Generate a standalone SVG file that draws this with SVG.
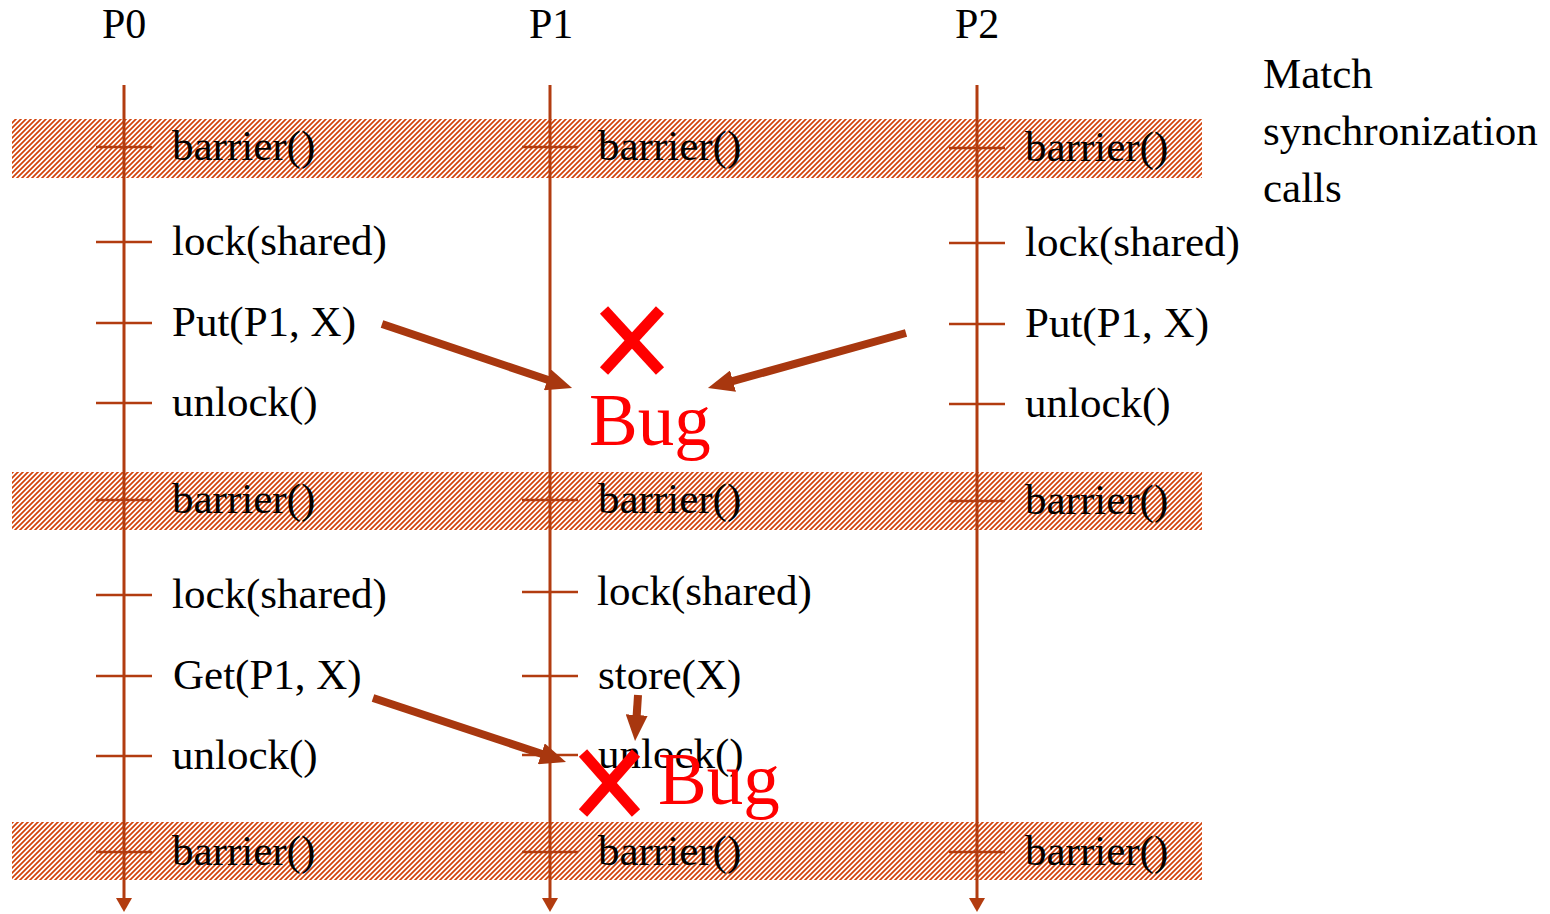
<svg xmlns="http://www.w3.org/2000/svg" width="1550" height="914" viewBox="0 0 1550 914">
<style>
.t{font-family:"Liberation Serif","Times New Roman",serif;font-size:43px;fill:#000}
.p{font-family:"Liberation Serif","Times New Roman",serif;font-size:42px;fill:#000}
.h{font-family:"Liberation Serif","Times New Roman",serif;font-size:43px;fill:#000}
.bug{font-family:"Liberation Serif","Times New Roman",serif;font-size:73px;fill:#ff0000}
.tl{stroke:#b23c10;stroke-width:3;fill:none}
.tk{stroke:#b23c10;stroke-width:2.5}
.ar{stroke:#a8370f;stroke-width:8;fill:none}
.x{stroke:#ff0000;stroke-width:11}
</style>
<defs>
<pattern id="hatch" patternUnits="userSpaceOnUse" width="5" height="5">
<path d="M-1,6 L6,-1 M-1,1 L1,-1 M4,6 L6,4" stroke="#d2420a" stroke-width="1.7"/>
</pattern>
<marker id="ah" markerUnits="userSpaceOnUse" viewBox="0 0 26 22" refX="8" refY="11" markerWidth="26" markerHeight="22" orient="auto">
<path d="M0,0 L26,11 L0,22 Z" fill="#a8370f"/>
</marker>
<marker id="tah" markerUnits="userSpaceOnUse" viewBox="0 0 14 16" refX="1" refY="8" markerWidth="14" markerHeight="16" orient="auto">
<path d="M0,0 L14,8 L0,16 Z" fill="#b23c10"/>
</marker>
</defs>
<rect width="1550" height="914" fill="#fff"/>
<g id="bands">
<rect x="12" y="119" width="1190" height="59" fill="url(#hatch)"/>
<rect x="12" y="472" width="1190" height="58" fill="url(#hatch)"/>
<rect x="12" y="822" width="1190" height="58" fill="url(#hatch)"/>
</g>
<g id="headers">
<text class="p" x="102" y="38">P0</text>
<text class="p" x="529" y="38">P1</text>
<text class="p" x="955" y="38">P2</text>
</g>
<g id="note">
<text class="h" x="1263" y="88">Match</text>
<text class="h" x="1263" y="145">synchronization</text>
<text class="h" x="1263" y="202">calls</text>
</g>
<g id="P0">
<line class="tl" x1="124" y1="85" x2="124" y2="899" marker-end="url(#tah)"/>
<line class="tk" x1="96" y1="147" x2="152" y2="147"/><text class="t" x="172" y="160">barrier()</text>
<line class="tk" x1="96" y1="242" x2="152" y2="242"/><text class="t" x="172" y="255">lock(shared)</text>
<line class="tk" x1="96" y1="323" x2="152" y2="323"/><text class="t" x="172" y="336">Put(P1, X)</text>
<line class="tk" x1="96" y1="403" x2="152" y2="403"/><text class="t" x="172" y="416">unlock()</text>
<line class="tk" x1="96" y1="500" x2="152" y2="500"/><text class="t" x="172" y="513">barrier()</text>
<line class="tk" x1="96" y1="595" x2="152" y2="595"/><text class="t" x="172" y="608">lock(shared)</text>
<line class="tk" x1="96" y1="676" x2="152" y2="676"/><text class="t" x="173" y="689">Get(P1, X)</text>
<line class="tk" x1="96" y1="756" x2="152" y2="756"/><text class="t" x="172" y="769">unlock()</text>
<line class="tk" x1="96" y1="852" x2="152" y2="852"/><text class="t" x="172" y="865">barrier()</text>
</g>
<g id="P1">
<line class="tl" x1="550" y1="85" x2="550" y2="899" marker-end="url(#tah)"/>
<line class="tk" x1="522" y1="147" x2="578" y2="147"/><text class="t" x="598" y="160">barrier()</text>
<line class="tk" x1="522" y1="500" x2="578" y2="500"/><text class="t" x="598" y="513">barrier()</text>
<line class="tk" x1="522" y1="592" x2="578" y2="592"/><text class="t" x="597" y="605">lock(shared)</text>
<line class="tk" x1="522" y1="676" x2="578" y2="676"/><text class="t" x="598" y="689">store(X)</text>
<line class="tk" x1="522" y1="755" x2="578" y2="755"/><text class="t" x="598" y="768">unlock()</text>
<line class="tk" x1="522" y1="852" x2="578" y2="852"/><text class="t" x="598" y="865">barrier()</text>
</g>
<g id="P2">
<line class="tl" x1="977" y1="85" x2="977" y2="899" marker-end="url(#tah)"/>
<line class="tk" x1="949" y1="148" x2="1005" y2="148"/><text class="t" x="1025" y="161">barrier()</text>
<line class="tk" x1="949" y1="243" x2="1005" y2="243"/><text class="t" x="1025" y="256">lock(shared)</text>
<line class="tk" x1="949" y1="324" x2="1005" y2="324"/><text class="t" x="1025" y="337">Put(P1, X)</text>
<line class="tk" x1="949" y1="404" x2="1005" y2="404"/><text class="t" x="1025" y="417">unlock()</text>
<line class="tk" x1="949" y1="501" x2="1005" y2="501"/><text class="t" x="1025" y="514">barrier()</text>
<line class="tk" x1="949" y1="852" x2="1005" y2="852"/><text class="t" x="1025" y="865">barrier()</text>
</g>
<g id="connectors">
<line class="ar" x1="382" y1="324" x2="555" y2="382.3" marker-end="url(#ah)"/>
<line class="ar" x1="906" y1="333" x2="725.3" y2="383.2" marker-end="url(#ah)"/>
<line class="ar" x1="373" y1="698" x2="548.9" y2="756.3" marker-end="url(#ah)"/>
<line class="ar" x1="638" y1="695" x2="636.2" y2="723" marker-end="url(#ah)"/>
</g>
<g id="bug1">
<line class="x" x1="604" y1="310" x2="660" y2="371"/>
<line class="x" x1="660" y1="310" x2="604" y2="371"/>
<text class="bug" x="589" y="445">Bug</text>
</g>
<g id="bug2">
<line class="x" x1="583" y1="753" x2="636" y2="813"/>
<line class="x" x1="636" y1="753" x2="583" y2="813"/>
<text class="bug" x="658" y="804">Bug</text>
</g>
</svg>
